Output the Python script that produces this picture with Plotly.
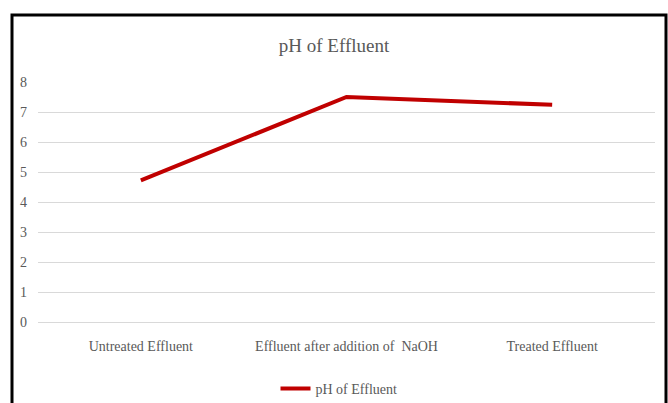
import plotly.graph_objects as go

categories = ["Untreated Effluent", "Effluent after addition of  NaOH", "Treated Effluent"]
ph_values = [4.72, 7.5, 7.24]
y_ticks = [0, 1, 2, 3, 4, 5, 6, 7, 8]
series_name = "pH of Effluent"

W, H = 668, 403
L, R, T, B = 38, 13, 82, 81
pw = W - L - R
ph = H - T - B

fig = go.Figure()
fig.add_trace(go.Scatter(
    x=categories, y=ph_values, mode="lines", name=series_name,
    line=dict(color="#C00000", width=4),
))

font_family = "Liberation Serif, Times New Roman, serif"
fig.update_layout(
    width=W, height=H, autosize=False,
    margin=dict(l=L, r=R, t=T, b=B, autoexpand=False),
    paper_bgcolor="white", plot_bgcolor="white",
    font=dict(family=font_family, color="#595959", size=14),
    title=dict(text="pH of Effluent", x=334 / W, xanchor="center",
               y=1 - 45 / H, yanchor="middle", yref="container",
               font=dict(size=19, color="#595959", family=font_family)),
    showlegend=True,
    legend=dict(orientation="h", x=(339 - L) / pw, xanchor="center",
                y=(T + ph - 389) / ph, yanchor="middle",
                font=dict(size=14, color="#595959"), itemwidth=30),
    xaxis=dict(showgrid=False, showline=False, zeroline=False,
               range=[-0.5, 2.5], automargin=False,
               ticks="", tickfont=dict(size=14, color="#595959"),
               ticklabelstandoff=14),
    yaxis=dict(range=[0, 8], tickvals=y_ticks, showgrid=True, automargin=False,
               gridcolor="#D9D9D9", gridwidth=1, zeroline=True,
               zerolinecolor="#D9D9D9", zerolinewidth=1, showline=False,
               ticks="", tickfont=dict(size=14, color="#595959"),
               ticklabelstandoff=10),
)

fig.add_shape(type="rect", xref="paper", yref="paper",
              x0=(12 - L) / pw, x1=(666 - L) / pw,
              y0=(T + ph - 415) / ph, y1=(T + ph - 15) / ph,
              line=dict(color="black", width=3), fillcolor="rgba(0,0,0,0)",
              layer="above")

fig.write_html("out.html", config={"displayModeBar": False},
               post_script="document.body.style.margin='0';document.body.style.overflow='hidden';")
